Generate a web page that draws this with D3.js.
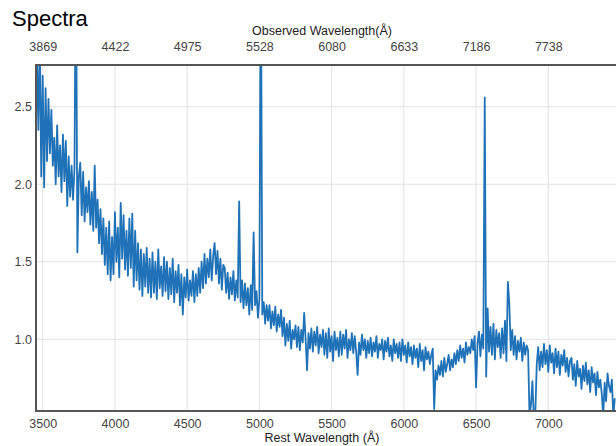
<!DOCTYPE html>
<html>
<head>
<meta charset="utf-8">
<script src="https://cdn.jsdelivr.net/npm/d3@7"></script>
<style>
  body { margin: 0; background: #fff; }
  #chart { width: 616px; height: 446px; }
  text { font-family: "Liberation Sans", Arial, Helvetica, sans-serif; }
</style>
</head>
<body>
<div id="chart"></div>
<script>
// ============================================
// Spectrum data
// ============================================

// rest wavelength grid, 10 Å steps
const restWave = d3.range(3460, 7461, 10);

// flux, one row per 100 Å starting at 3460
const flux = [
  2.85, 2.35, 2.95, 2.05, 2.70, 1.98, 2.62, 2.15, 2.55, 2.20,
  2.48, 2.12, 2.30, 2.00, 2.38, 2.05, 2.25, 1.95, 2.32, 2.02,
  2.28, 1.86, 2.18, 1.92, 2.12, 1.90, 2.10, 3.60, 1.56, 2.05,
  2.14, 1.80, 2.08, 1.76, 1.98, 1.82, 2.02, 1.74, 1.95, 1.70,
  2.12, 1.72, 1.90, 1.62, 1.84, 1.55, 1.78, 1.48, 1.72, 1.42,
  1.76, 1.38, 1.66, 1.42, 1.82, 1.50, 1.72, 1.40, 1.88, 1.52,
  1.80, 1.45, 1.70, 1.41, 1.78, 1.46, 1.81, 1.34, 1.70, 1.38,
  1.62, 1.32, 1.58, 1.28, 1.55, 1.34, 1.59, 1.30, 1.52, 1.27,
  1.56, 1.30, 1.50, 1.26, 1.58, 1.33, 1.47, 1.28, 1.53, 1.31,
  1.50, 1.26, 1.46, 1.29, 1.52, 1.24, 1.44, 1.30, 1.48, 1.22,
  1.42, 1.16, 1.40, 1.27, 1.45, 1.25, 1.38, 1.28, 1.44, 1.24,
  1.42, 1.28, 1.46, 1.30, 1.50, 1.33, 1.55, 1.36, 1.52, 1.40,
  1.58, 1.38, 1.54, 1.62, 1.42, 1.57, 1.36, 1.52, 1.32, 1.48,
  1.46, 1.30, 1.43, 1.26, 1.40, 1.29, 1.44, 1.25, 1.38, 1.27,
  1.89, 1.24, 1.38, 1.20, 1.36, 1.22, 1.33, 1.16, 1.35, 1.19,
  1.69, 1.22, 1.31, 1.14, 1.26, 3.60, 1.16, 1.24, 1.10, 1.22,
  1.12, 1.22, 1.07, 1.18, 1.09, 1.21, 1.05, 1.16, 1.08, 1.19,
  1.02, 1.14, 0.96, 1.10, 0.99, 1.12, 0.94, 1.06, 1.00, 1.09,
  0.95, 1.08, 0.93, 1.06, 0.98, 1.17, 1.00, 0.80, 1.04, 0.94,
  1.07, 0.92, 1.05, 0.96, 1.08, 0.91, 1.03, 0.95, 1.06, 0.90,
  1.04, 0.88, 1.07, 0.92, 1.02, 0.86, 1.05, 0.93, 1.01, 0.89,
  1.05, 0.90, 1.03, 0.94, 1.06, 0.88, 1.00, 0.93, 1.04, 0.91,
  1.02, 0.92, 0.77, 0.98, 0.90, 1.03, 0.93, 1.00, 0.88, 0.99,
  0.91, 1.01, 0.89, 0.98, 0.92, 1.02, 0.88, 0.97, 0.93, 1.00,
  0.87, 0.99, 0.92, 1.01, 0.89, 0.96, 0.86, 1.00, 0.91, 0.97,
  0.88, 0.98, 0.86, 1.00, 0.90, 0.96, 0.85, 0.98, 0.89, 0.95,
  0.84, 0.96, 0.88, 0.94, 0.82, 0.97, 0.86, 0.93, 0.80, 0.95,
  0.87, 0.92, 0.84, 0.90, 0.94, 0.55, 0.80, 0.74, 0.83, 0.77,
  0.86, 0.76, 0.88, 0.79, 0.84, 0.90, 0.80, 0.87, 0.82, 0.91,
  0.84, 0.93, 0.86, 0.96, 0.88, 0.94, 0.85, 0.98, 0.90, 0.95,
  0.91, 1.00, 0.93, 1.02, 0.69, 0.97, 1.05, 0.89, 1.03, 0.94,
  2.56, 0.76, 1.20, 0.92, 1.08, 0.90, 1.10, 0.87, 1.06, 0.95,
  1.04, 0.88, 1.07, 0.91, 1.12, 0.86, 1.37, 1.23, 0.93, 1.06,
  0.90, 1.02, 0.87, 0.99, 0.92, 1.01, 0.86, 0.98, 0.90, 0.96,
  0.93, 0.50, 0.58, 0.73, 0.48, 0.52, 0.84, 0.95, 0.80, 0.92,
  0.82, 0.97, 0.84, 0.93, 0.79, 0.96, 0.85, 0.91, 0.78, 0.94,
  0.82, 0.92, 0.77, 0.90, 0.83, 0.93, 0.79, 0.88, 0.76, 0.86,
  0.88, 0.74, 0.84, 0.70, 0.86, 0.76, 0.81, 0.68, 0.83, 0.73,
  0.85, 0.71, 0.80, 0.66, 0.82, 0.72, 0.78, 0.64, 0.79, 0.69,
  0.74, 0.65, 0.50, 0.72, 0.60, 0.78, 0.70, 0.66, 0.74, 0.50,
  0.62
];

// axis ticks
const restTicks = [3500, 4000, 4500, 5000, 5500, 6000, 6500, 7000];
const obsTickLabels = ['3869', '4422', '4975', '5528', '6080', '6633', '7186', '7738'];
const fluxTicks = [1.0, 1.5, 2.0, 2.5];

// ============================================
// Chart
// ============================================

const W = 616, H = 446;
const plot = {left: 36, top: 65, right: 617, bottom: 411};

const svg = d3.select('#chart')
    .append('svg')
    .attr('width', W)
    .attr('height', H);

// scales
const x = d3.scaleLinear()
    .domain([3453.6, 7475.5])
    .range([plot.left, plot.right]);

const y = d3.scaleLinear()
    .domain([0.5376, 2.769])
    .range([plot.bottom, plot.top]);

// grid lines
svg.append('g')
    .selectAll('line')
    .data(restTicks)
    .enter()
    .append('line')
    .attr('x1', d => x(d)).attr('x2', d => x(d))
    .attr('y1', plot.top).attr('y2', plot.bottom)
    .attr('stroke', '#e2e2e2')
    .attr('stroke-width', 1);

svg.append('g')
    .selectAll('line')
    .data(fluxTicks)
    .enter()
    .append('line')
    .attr('x1', plot.left).attr('x2', plot.right)
    .attr('y1', d => y(d)).attr('y2', d => y(d))
    .attr('stroke', '#e2e2e2')
    .attr('stroke-width', 1);

// clip for the spectrum
svg.append('clipPath')
    .attr('id', 'plotClip')
    .append('rect')
    .attr('x', plot.left)
    .attr('y', plot.top)
    .attr('width', plot.right - plot.left)
    .attr('height', plot.bottom - plot.top);

const spectrum = restWave.map((w, i) => ({w: w, f: flux[i]}));

const line = d3.line()
    .x(d => x(d.w))
    .y(d => y(d.f));

svg.append('path')
    .datum(spectrum)
    .attr('clip-path', 'url(#plotClip)')
    .attr('fill', 'none')
    .attr('stroke', '#1f72b8')
    .attr('stroke-width', 1.8)
    .attr('stroke-linejoin', 'round')
    .attr('d', line);

// frame
svg.append('rect')
    .attr('x', plot.left)
    .attr('y', plot.top)
    .attr('width', plot.right - plot.left)
    .attr('height', plot.bottom - plot.top)
    .attr('fill', 'none')
    .attr('stroke', '#555')
    .attr('stroke-width', 2);

// bottom axis: rest wavelength
const bottomAxis = svg.append('g')
    .attr('transform', `translate(0,${plot.bottom})`)
    .call(d3.axisBottom(x).tickValues(restTicks)
        .tickFormat(d3.format('d'))
        .tickSize(0).tickPadding(8));
bottomAxis.select('.domain').remove();
bottomAxis.selectAll('text')
    .style('font-size', '12.5px')
    .attr('fill', '#444');

// top axis: observed wavelength
const topAxis = svg.append('g')
    .attr('transform', `translate(0,${plot.top})`)
    .call(d3.axisTop(x).tickValues(restTicks)
        .tickFormat((d, i) => obsTickLabels[i])
        .tickSize(0).tickPadding(14));
topAxis.select('.domain').remove();
topAxis.selectAll('text')
    .style('font-size', '12.5px')
    .attr('fill', '#444');

// left axis: flux
const leftAxis = svg.append('g')
    .attr('transform', `translate(${plot.left},0)`)
    .call(d3.axisLeft(y).tickValues(fluxTicks)
        .tickFormat(d3.format('.1f'))
        .tickSize(0).tickPadding(4));
leftAxis.select('.domain').remove();
leftAxis.selectAll('text')
    .style('font-size', '12.5px')
    .attr('fill', '#444');

// titles
svg.append('text')
    .attr('x', 12)
    .attr('y', 26)
    .style('font-size', '22px')
    .attr('fill', '#000')
    .text('Spectra');

svg.append('text')
    .attr('x', 322)
    .attr('y', 35)
    .attr('text-anchor', 'middle')
    .style('font-size', '12.5px')
    .attr('fill', '#222')
    .text('Observed Wavelength(Å)');

svg.append('text')
    .attr('x', 322)
    .attr('y', 442)
    .attr('text-anchor', 'middle')
    .style('font-size', '12.5px')
    .attr('fill', '#222')
    .text('Rest Wavelength (Å)');
</script>
</body>
</html>
